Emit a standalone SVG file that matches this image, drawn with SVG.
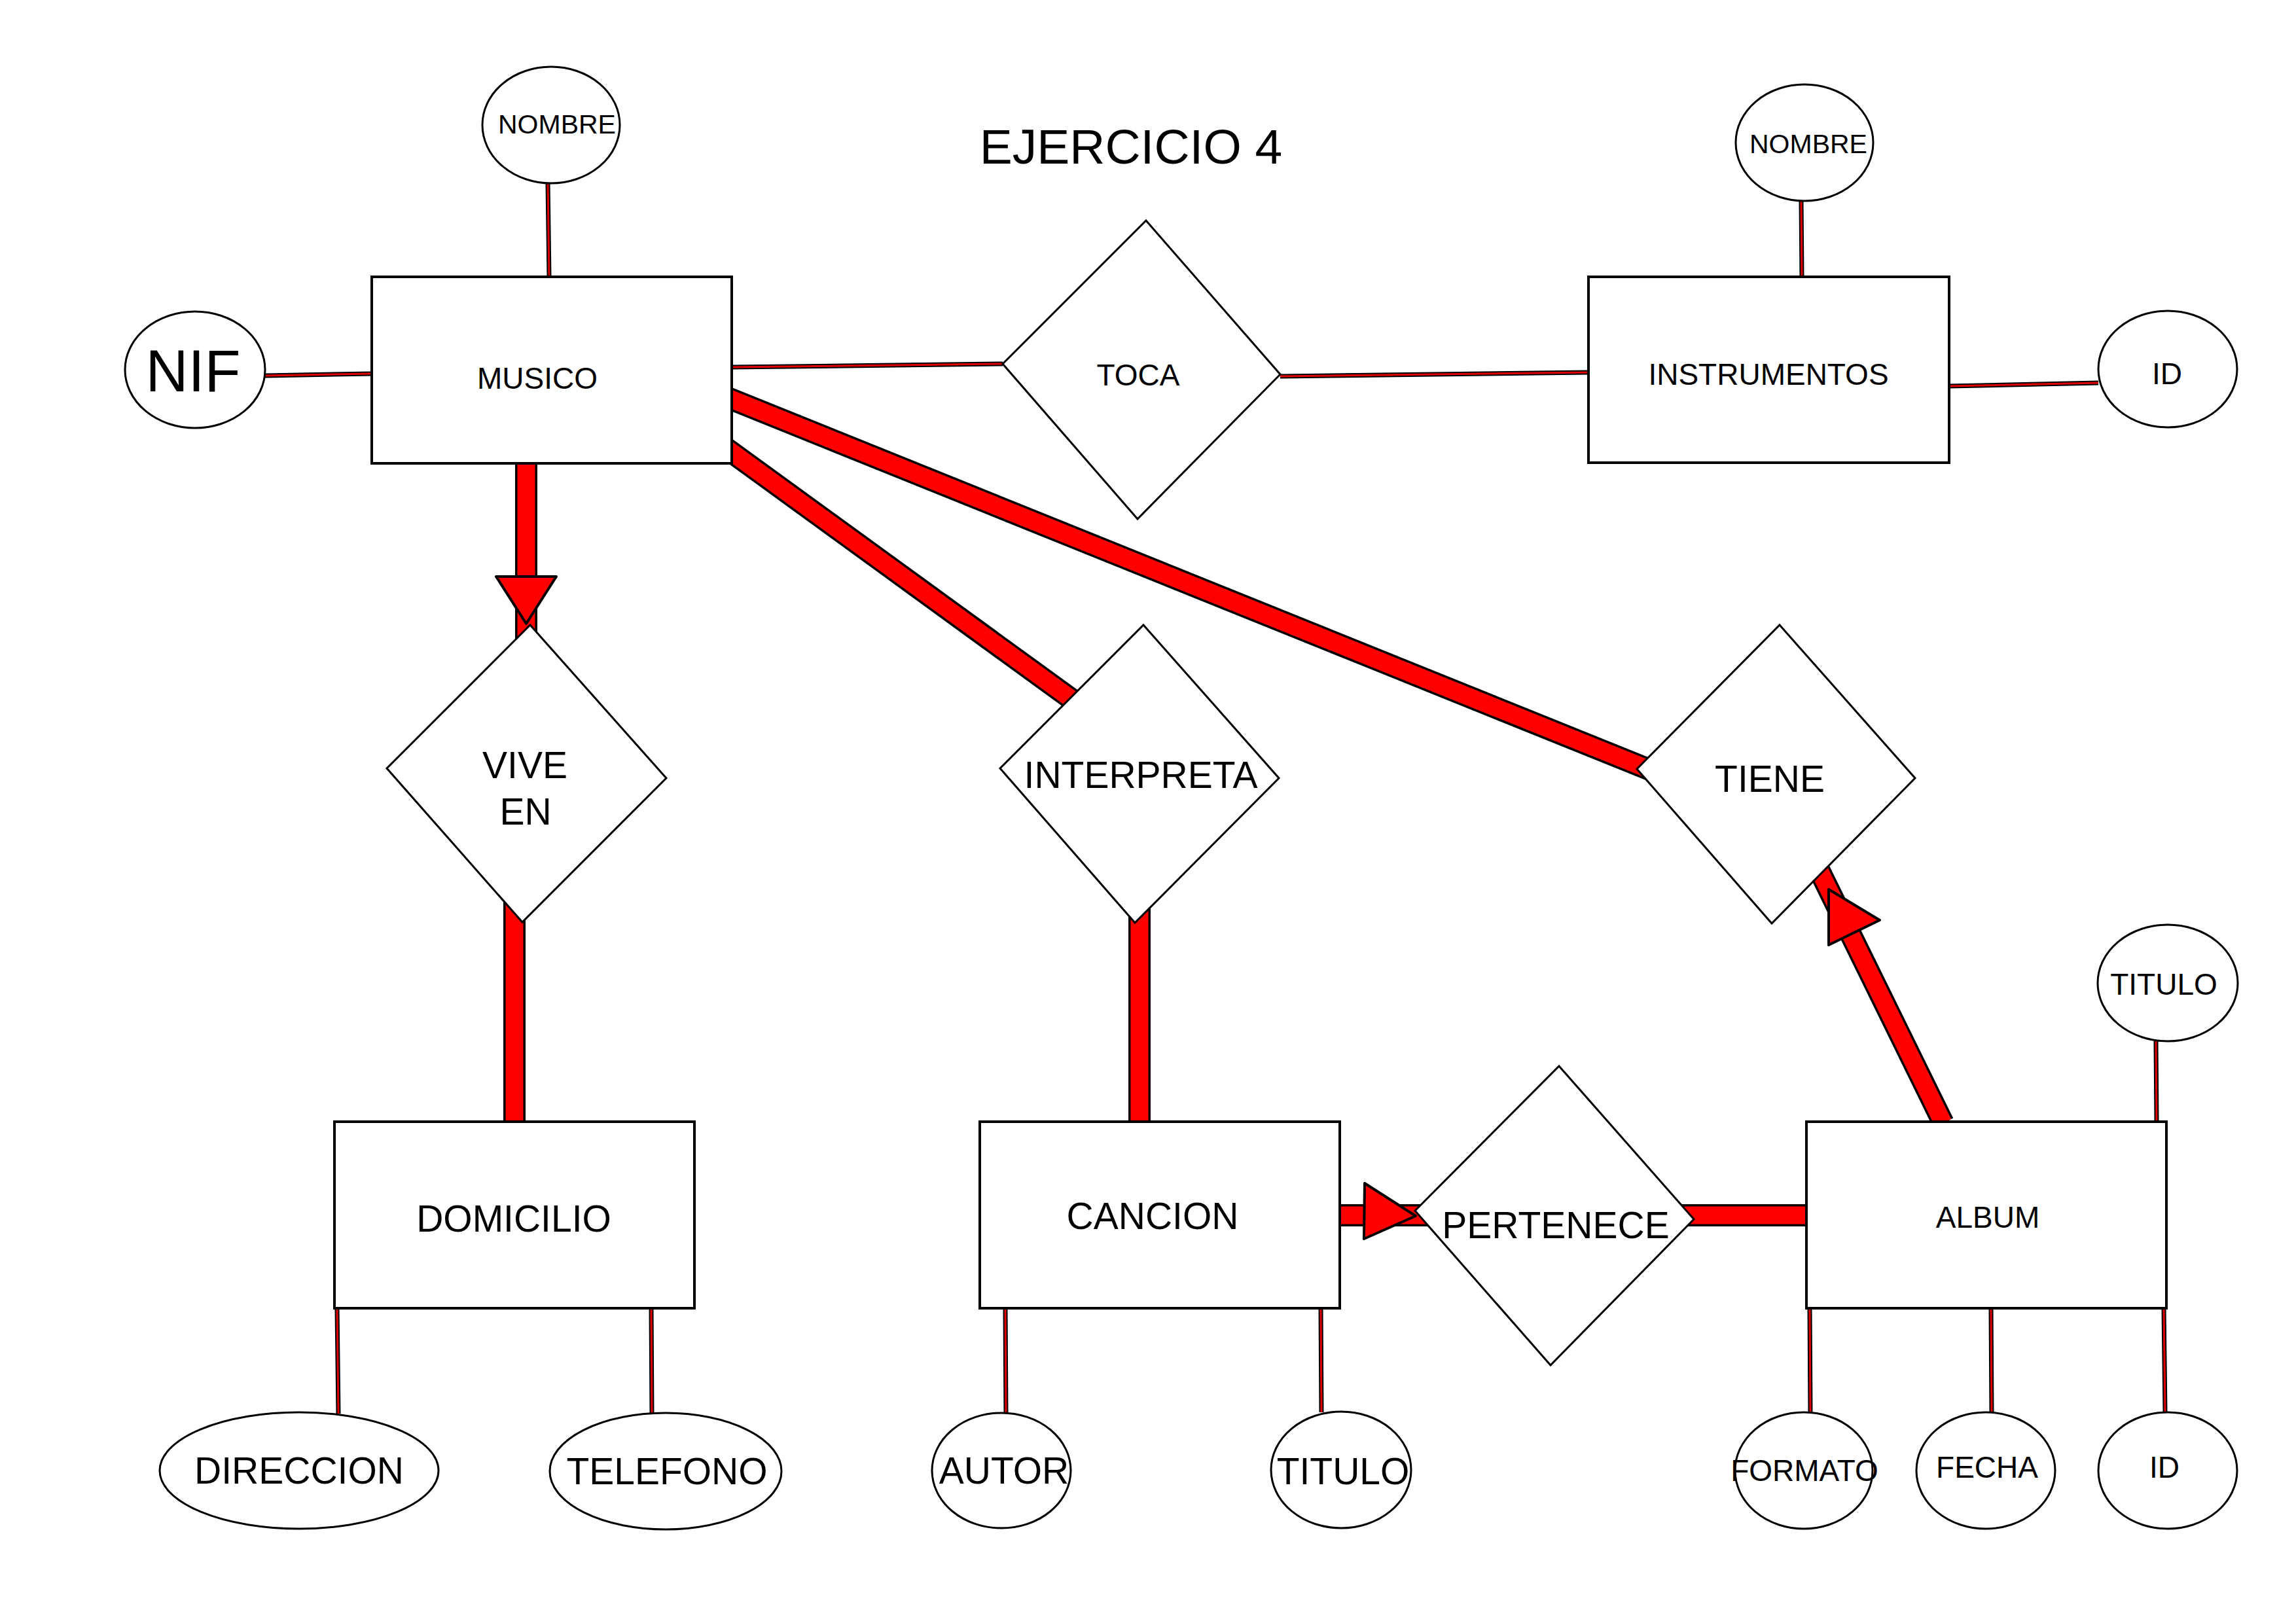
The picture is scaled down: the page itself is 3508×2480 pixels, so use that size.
<svg xmlns="http://www.w3.org/2000/svg" width="3508" height="2480" viewBox="0 0 3508 2480">
<style>
.ent{fill:#fff;stroke:#000;stroke-width:4}
.rel{fill:#fff;stroke:#000;stroke-width:3;stroke-linejoin:miter}
.att{fill:#fff;stroke:#000;stroke-width:3}
.tk{stroke:#000;stroke-width:34;fill:none}
.tr{stroke:#f00;stroke-width:27;fill:none}
.nk{stroke:#000;stroke-width:7;fill:none}
.nr{stroke:#e00000;stroke-width:3;fill:none}
.arr{fill:#f00;stroke:#000;stroke-width:4;stroke-linejoin:round}
text{font-family:"Liberation Sans",Arial,sans-serif;fill:#000;text-anchor:middle}
.s{font-size:46px}
.m{font-size:57px}
.a{font-size:41px}
</style>
<rect width="3508" height="2480" fill="#fff"/>
<text x="1728" y="250" style="font-size:75px">EJERCICIO 4</text>
<g id="connectors">
  <g id="thin">
    <path class="nk" d="M837 280L839 423M405 574L568 571M1118 561L1532 556M1956 575L2427 569M2752 307L2753 423M2978 590L3206 585M515 1999L517 2160M995 1999L996 2159M1536 1999L1537 2158M2018 1999L2019 2158M2765 1999L2766 2158M3042 1999L3043 2158M3306 1999L3308 2158M3294 1591L3295 1714"/>
    <path class="nr" d="M837 280L839 423M405 574L568 571M1118 561L1532 556M1956 575L2427 569M2752 307L2753 423M2978 590L3206 585M515 1999L517 2160M995 1999L996 2159M1536 1999L1537 2158M2018 1999L2019 2158M2765 1999L2766 2158M3042 1999L3043 2158M3306 1999L3308 2158M3294 1591L3295 1714"/>
  </g>
  <g id="thick">
    <path class="tk" d="M804 700L804 1000M786 1360L786 1716M1100 678L1660 1085M1100 603L2530 1180M1741 1380L1741 1716M2045 1857L2762 1857M2969 1716L2760 1290"/>
    <path class="tr" d="M804 700L804 1000M786 1360L786 1716M1100 678L1660 1085M1100 603L2530 1180M1741 1380L1741 1716M2045 1857L2762 1857M2969 1716L2760 1290"/>
  </g>
  <polygon class="arr" points="758,881 850,881 804,953"/>
  <polygon class="arr" points="2085,1808 2163,1858 2084,1893"/>
  <polygon class="arr" points="2794,1359 2872,1406 2794,1444"/>
</g>
<g id="musico"><rect class="ent" x="568" y="423" width="550" height="285"/><text class="s" x="821" y="594">MUSICO</text></g>
<g id="instrumentos"><rect class="ent" x="2427" y="423" width="551" height="284"/><text class="s" x="2702" y="588">INSTRUMENTOS</text></g>
<g id="domicilio"><rect class="ent" x="511" y="1714" width="550" height="285"/><text class="m" x="785" y="1882">DOMICILIO</text></g>
<g id="cancion"><rect class="ent" x="1497" y="1714" width="550" height="285"/><text class="m" x="1761" y="1878">CANCION</text></g>
<g id="album"><rect class="ent" x="2760" y="1714" width="550" height="285"/><text class="s" x="3037" y="1876">ALBUM</text></g>
<g id="toca"><polygon class="rel" points="1751,337 1956,572 1738,793 1532,556"/><text class="s" x="1739" y="589">TOCA</text></g>
<g id="vive_en"><polygon class="rel" points="810,955 1018,1189 798,1409 591,1174"/><text class="m" x="802" y="1189">VIVE</text><text class="m" x="803" y="1260">EN</text></g>
<g id="interpreta"><polygon class="rel" points="1747,955 1954,1189 1734,1410 1528,1174"/><text class="m" x="1743" y="1204">INTERPRETA</text></g>
<g id="tiene"><polygon class="rel" points="2719,955 2926,1189 2707,1411 2501,1175"/><text class="m" x="2704" y="1210">TIENE</text></g>
<g id="pertenece"><polygon class="rel" points="2382,1629 2588,1863 2369,2086 2162,1850"/><text class="m" x="2377" y="1892">PERTENECE</text></g>
<g id="nombre_musico"><ellipse class="att" cx="842" cy="191" rx="105" ry="89"/><text class="a" x="851" y="204">NOMBRE</text></g>
<g id="nif"><ellipse class="att" cx="298" cy="565" rx="107" ry="89"/><text x="295" y="598" style="font-size:90px">NIF</text></g>
<g id="nombre_instr"><ellipse class="att" cx="2757" cy="218" rx="105" ry="89"/><text class="a" x="2763" y="234">NOMBRE</text></g>
<g id="id_instr"><ellipse class="att" cx="3312" cy="564" rx="106" ry="89"/><text class="s" x="3311" y="587">ID</text></g>
<g id="titulo_album"><ellipse class="att" cx="3312" cy="1502" rx="107" ry="89"/><text class="s" x="3306" y="1520">TITULO</text></g>
<g id="direccion"><ellipse class="att" cx="457" cy="2247" rx="213" ry="89"/><text class="m" x="457" y="2267">DIRECCION</text></g>
<g id="telefono"><ellipse class="att" cx="1017" cy="2248" rx="177" ry="89"/><text class="m" x="1019" y="2268">TELEFONO</text></g>
<g id="autor"><ellipse class="att" cx="1530" cy="2247" rx="106" ry="88"/><text class="m" x="1534" y="2267">AUTOR</text></g>
<g id="titulo_cancion"><ellipse class="att" cx="2049" cy="2246" rx="107" ry="89"/><text class="m" x="2052" y="2268">TITULO</text></g>
<g id="formato"><ellipse class="att" cx="2756" cy="2247" rx="105" ry="89"/><text class="s" x="2757" y="2263">FORMATO</text></g>
<g id="fecha"><ellipse class="att" cx="3034" cy="2247" rx="106" ry="89"/><text class="s" x="3036" y="2258">FECHA</text></g>
<g id="id_album"><ellipse class="att" cx="3312" cy="2247" rx="106" ry="89"/><text class="s" x="3307" y="2258">ID</text></g>
</svg>
